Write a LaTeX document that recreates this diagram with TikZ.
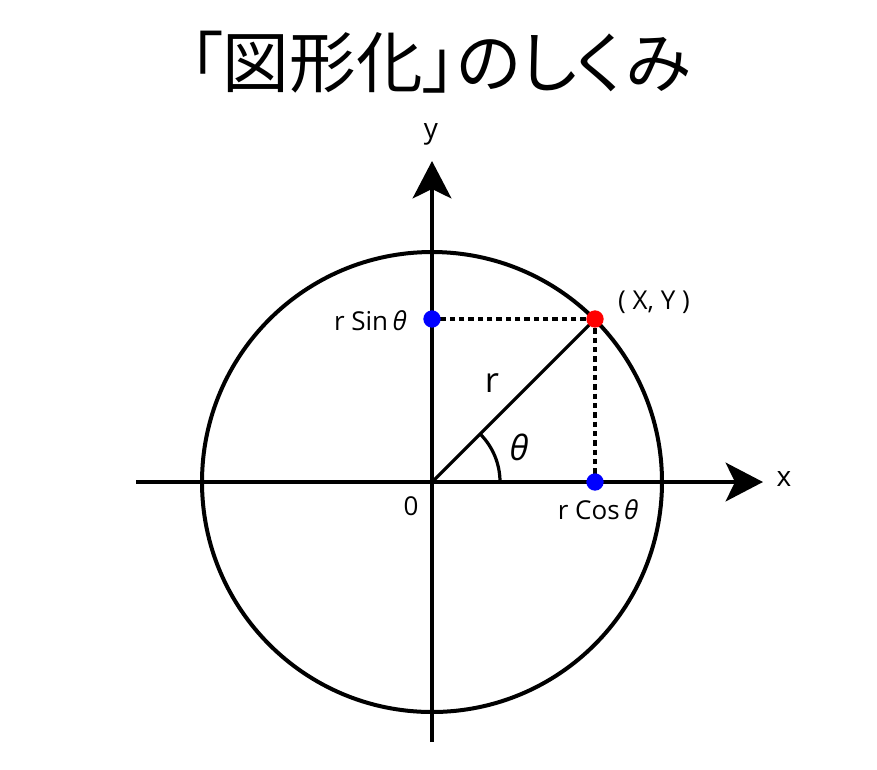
\documentclass[tikz,border=0pt]{standalone}
\usepackage{fontspec}
\setmainfont{Open Sans}
\newfontfamily\cjk[RawFeature=+palt]{Noto Sans CJK JP}
\usetikzlibrary{arrows.meta}
\begin{document}
\begin{tikzpicture}[x=0.75pt,y=-0.75pt,
  axis/.style={line width=3pt,-{Stealth[length=28pt,width=29pt,inset=7pt]}},
  circ/.style={line width=3pt},
  radline/.style={line width=2.4pt},
  dashline/.style={line width=2.3pt,dash pattern=on 4pt off 3pt},
  dotnode/.style={circle,inner sep=0pt,minimum size=13pt},
  lbl/.style={font=\fontsize{19.5}{22}\selectfont,inner sep=0pt}]
\fill[white] (0,0) rectangle (877,769);
\useasboundingbox (0,0) rectangle (877,769);
\node[font=\cjk\fontsize{50}{56}\selectfont,inner sep=0pt] (title) at (440,62) {「図形化」のしくみ};
\coordinate (O) at (432,482);
\coordinate (xl) at (136,482);
\coordinate (xr) at (763,482);
\coordinate (yb) at (432,742);
\coordinate (yt) at (432,161);
\coordinate (P) at (595,319);
\coordinate (S) at (432,319);
\coordinate (C) at (595,482);
\draw[circ] (O) circle [radius=230];
\draw[axis] (xl) -- (xr);
\draw[axis] (yb) -- (yt);
\draw[radline] (O) -- (P);
\draw[line width=2.4pt] (O) ++(68,0) arc[start angle=0,end angle=-45,radius=68];
\draw[dashline] (P) -- (S);
\draw[dashline] (P) -- (C);
\node[dotnode,fill=red] (pd) at (P) {};
\node[dotnode,fill=blue] (sd) at (S) {};
\node[dotnode,fill=blue] (cd) at (C) {};
\node[lbl,font=\fontsize{21}{24}\selectfont] (ylab) at (431,134) {y};
\node[lbl,font=\fontsize{21}{24}\selectfont] (xlab) at (784,479) {x};
\node[lbl] (xy) at (654,302) {( X, Y )};
\node[lbl,anchor=east] (sinl) at (407,321) {r Sin\,\textit{θ}};
\node[lbl] (cosl) at (598,510) {r Cos\,\textit{θ}};
\node[lbl] (zero) at (411,506) {0};
\node[lbl,font=\fontsize{26}{30}\selectfont] (rl) at (492,383) {r};
\node[lbl,font=\fontsize{26}{30}\selectfont\itshape] (thl) at (519,447) {θ};
\end{tikzpicture}
\end{document}
